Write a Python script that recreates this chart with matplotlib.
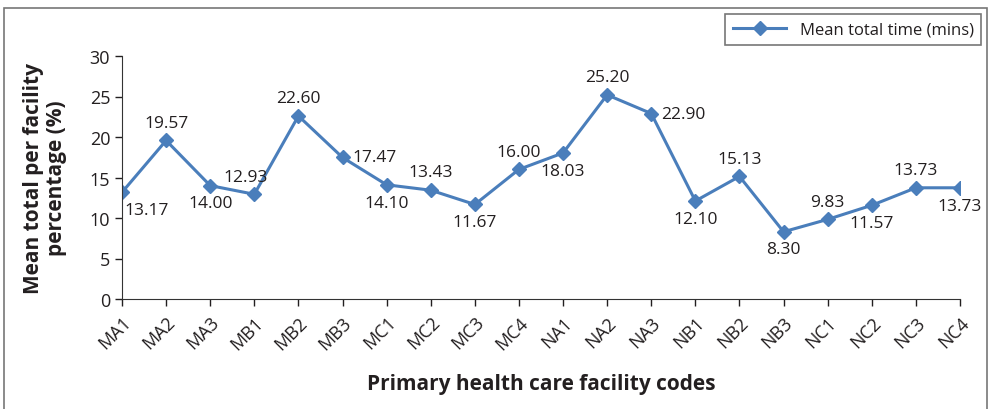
import matplotlib.pyplot as plt
from matplotlib.patches import Rectangle

codes = ['MA1', 'MA2', 'MA3', 'MB1', 'MB2', 'MB3', 'MC1', 'MC2', 'MC3', 'MC4',
         'NA1', 'NA2', 'NA3', 'NB1', 'NB2', 'NB3', 'NC1', 'NC2', 'NC3', 'NC4']
mean_time = [13.17, 19.57, 14.00, 12.93, 22.60, 17.47, 14.10, 13.43, 11.67, 16.00,
             18.03, 25.20, 22.90, 12.10, 15.13, 8.30, 9.83, 11.57, 13.73, 13.73]

# where each value label goes relative to its point
label_pos = ['br', 'a', 'b', 'al', 'a', 'r', 'b', 'a', 'b', 'a',
             'b', 'a', 'r', 'b', 'a', 'b', 'a', 'b', 'a', 'b']

plt.rcParams['font.family'] = ['Open Sans', 'DejaVu Sans']
txt = '#231f20'
blue = '#4a7ebb'

fig = plt.figure(figsize=(9.88, 4.10), dpi=100)
ax = fig.add_axes([122/988, 1-300/410, (960-122)/988, 243/410])

x = list(range(len(codes)))
ax.plot(x, mean_time, '-D', color=blue, lw=2.2, ms=7.5, label='Mean total time (mins)')

offs = {'a': ((0, 7), 'center', 'bottom'),
        'al': ((-6, 7), 'center', 'bottom'),
        'b': ((0, -7), 'center', 'top'),
        'br': ((2, -7), 'left', 'top'),
        'r': ((7, 0), 'left', 'center')}
for xi, v, p in zip(x, mean_time, label_pos):
    o, ha, va = offs[p]
    ax.annotate(f'{v:.2f}', (xi, v), xytext=o, textcoords='offset points',
                ha=ha, va=va, fontsize=12.5, color=txt)

ax.set_xlim(0, len(codes) - 1)
ax.set_ylim(0, 30)
ax.set_yticks(range(0, 31, 5))
ax.set_xticks(x)
ax.set_xticklabels(codes, rotation=45, ha='right', va='top', rotation_mode='anchor')
ax.tick_params(colors=txt, labelsize=13, length=5, width=1, direction='out')
ax.tick_params(axis='x', pad=5)
for s in ['top', 'right']:
    ax.spines[s].set_visible(False)
for s in ['left', 'bottom']:
    ax.spines[s].set_color('#333333')
ax.set_xlabel('Primary health care facility codes', fontsize=15, fontweight='bold',
              color=txt)
ax.xaxis.set_label_coords(0.5, -(385-300)/243, transform=ax.transAxes)
ax.xaxis.label.set_va('center')
ax.set_ylabel('Mean total per facility\npercentage (%)', fontsize=15, fontweight='bold',
              color=txt, linespacing=1.1)
ax.yaxis.set_label_coords(-(122-45)/838, 0.5)
ax.yaxis.label.set_va('center')

leg = ax.legend(loc='upper right', bbox_to_anchor=(981/988, 1-15/410),
                bbox_transform=fig.transFigure, fontsize=12, frameon=True,
                fancybox=False, edgecolor='#555555', handlelength=3.2,
                borderpad=0.45, borderaxespad=0)
leg.get_frame().set_linewidth(1.2)
for t in leg.get_texts():
    t.set_color(txt)

fig.patches.append(Rectangle((4/988, -0.01), 983/988, 1.01 - 9/410, transform=fig.transFigure,
                             fill=False, edgecolor='#777777', lw=1.2))

fig.savefig('out.png', dpi=100)
